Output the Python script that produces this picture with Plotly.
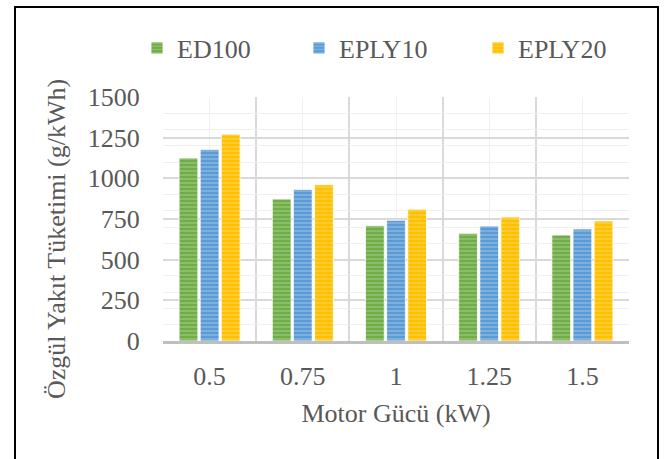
import plotly.graph_objects as go

categories = ["0.5", "0.75", "1", "1.25", "1.5"]
ed100 = [1125, 873, 709, 662, 652]
eply10 = [1178, 932, 742, 707, 689]
eply20 = [1271, 961, 810, 762, 738]
series_names = ["ED100", "EPLY10", "EPLY20"]
y_ticks = [0, 250, 500, 750, 1000, 1250, 1500]

W, H = 664, 459
L, R, T, B = 163, 35, 97, 118
pw, ph = W - L - R, H - T - B

def px_x(p):
    return (p - L) / pw

def px_y(p):
    return (H - B - p) / ph

FONT = "'Liberation Serif', 'Times New Roman', serif"
TXT = "#595959"

styles = [
    ("#70AD47", "#A9D18E"),
    ("#5B9BD5", "#A4C8EA"),
    ("#FFC000", "#FFDA66"),
]
legend_widths = [117, 134, 134]

idx = list(range(len(categories)))
fig = go.Figure()
for name, vals, (c, lc), lw in zip(series_names, [ed100, eply10, eply20], styles, legend_widths):
    fig.add_trace(go.Bar(
        x=idx, y=vals, name=name, legendwidth=lw,
        marker=dict(
            color=c,
            line=dict(color="rgba(255,255,255,0.8)", width=1),
            pattern=dict(shape="-", size=4, solidity=0.45, fgcolor=lc, bgcolor=c, fillmode="overlay"),
        ),
    ))

fig.update_layout(
    width=W, height=H,
    margin=dict(l=L, r=R, t=T, b=B),
    paper_bgcolor="white", plot_bgcolor="white",
    barmode="group", bargap=0.32, bargroupgap=0.11,
    font=dict(family=FONT, size=26, color=TXT),
    showlegend=True,
    legend=dict(orientation="h", x=px_x(137), xanchor="left", y=px_y(48), yanchor="middle",
                font=dict(family=FONT, size=26, color=TXT), bgcolor="rgba(0,0,0,0)",
                itemclick=False, tracegroupgap=0),
    xaxis=dict(
        range=[-0.5, len(categories) - 0.5],
        tickmode="array", tickvals=idx, ticktext=categories,
        showgrid=True, gridcolor="#F0F0F0", gridwidth=1.3,
        ticks="outside", ticklen=10, tickcolor="rgba(0,0,0,0)",
        showline=True, linecolor="#BFBFBF", linewidth=3,
        zeroline=False,
        minor=dict(tickmode="linear", tick0=-0.5, dtick=1, showgrid=True,
                   gridcolor="#D9D9D9", gridwidth=1.5, ticks=""),
        title=dict(text="Motor Gücü (kW)", standoff=14,
                   font=dict(family=FONT, size=26, color=TXT)),
    ),
    yaxis=dict(
        range=[0, 1500],
        tickmode="array", tickvals=y_ticks,
        showgrid=True, gridcolor="#D9D9D9", gridwidth=1.5,
        ticks="outside", ticklen=17, tickcolor="rgba(0,0,0,0)",
        zeroline=False, showline=False,
        minor=dict(tickmode="linear", tick0=0, dtick=100, showgrid=True,
                   gridcolor="#F0F0F0", gridwidth=1.3, ticks=""),
    ),
    annotations=[dict(
        text="Özgül Yakıt Tüketimi (g/kWh)", textangle=-90,
        xref="paper", yref="paper", x=px_x(56), y=px_y(239),
        xanchor="center", yanchor="middle", showarrow=False,
        font=dict(family=FONT, size=26, color=TXT),
    )],
    shapes=[dict(
        type="rect", xref="paper", yref="paper",
        x0=px_x(15), x1=px_x(658), y0=px_y(475), y1=px_y(7),
        line=dict(color="black", width=2), fillcolor="rgba(0,0,0,0)", layer="above",
    )],
)

fig.write_html("out.html")
